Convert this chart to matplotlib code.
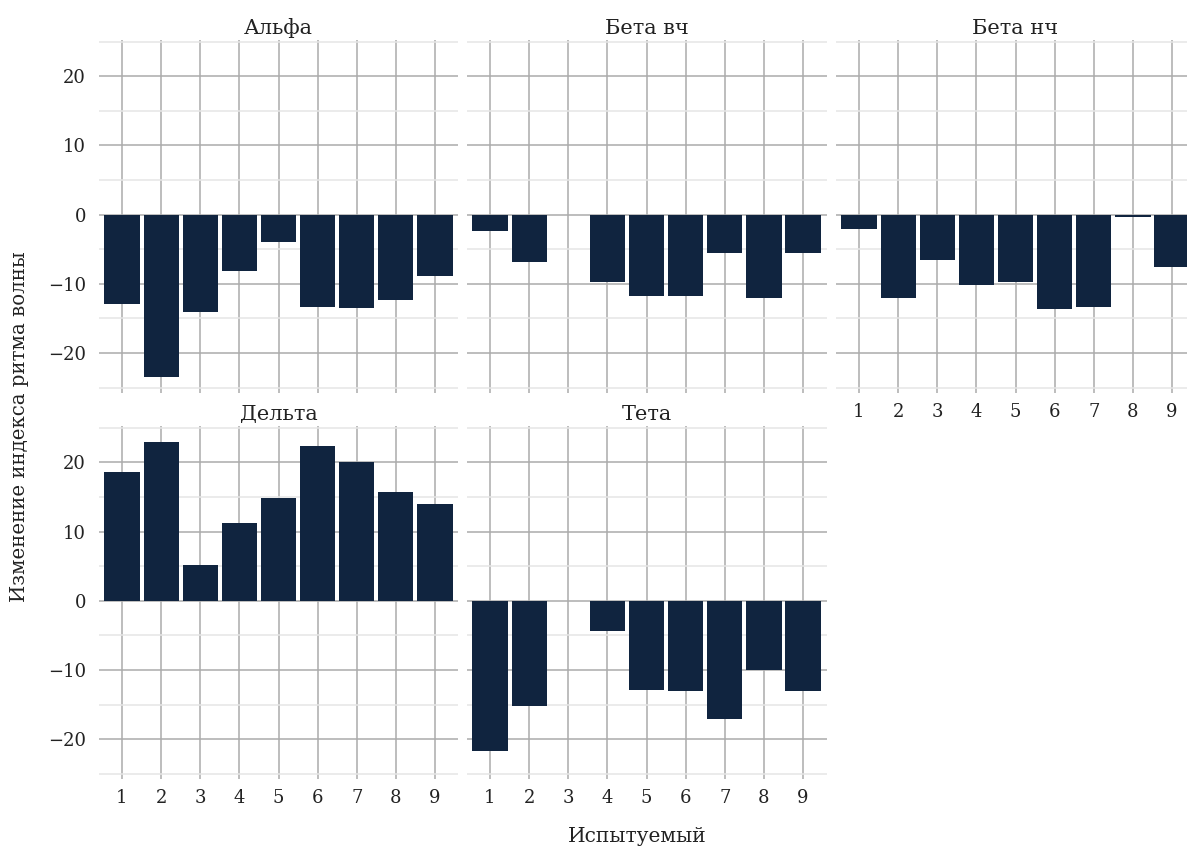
import matplotlib
matplotlib.use("Agg")
import matplotlib.pyplot as plt
import numpy as np

subjects = ["1", "2", "3", "4", "5", "6", "7", "8", "9"]
panels = ["Альфа", "Бета вч", "Бета нч", "Дельта", "Тета"]
alpha = [-12.9, -23.5, -14.0, -8.2, -3.9, -13.4, -13.5, -12.4, -8.8]
beta_hf = [-2.4, -6.8, 0.0, -9.8, -11.7, -11.7, -5.6, -12.0, -5.6]
beta_lf = [-2.0, -12.0, -6.5, -10.2, -9.8, -13.7, -13.3, -0.4, -7.5]
delta = [18.6, 22.9, 5.2, 11.2, 14.8, 22.4, 20.0, 15.7, 14.0]
theta = [-21.7, -15.2, -0.1, -4.3, -12.85, -13.0, -17.05, -10.05, -13.0]
values = [alpha, beta_hf, beta_lf, delta, theta]

y_major = [-20, -10, 0, 10, 20]
y_minor = [-25, -15, -5, 5, 15, 25]

W, H = 1187, 847
plt.rcParams['font.family'] = ['DejaVu Serif']
fig = plt.figure(figsize=(W / 100, H / 100), dpi=100)
fig.patch.set_facecolor("white")

bar_color = "#10243f"
major_c = "#ababab"
minor_c = "#e6e6e6"
text_c = "#222222"

col_left = [98.5, 466.5, 835.5]
panel_w = 360.0
row_top = [39.6, 425.7]
panel_h = 353.6

positions = [(0, 0), (0, 1), (0, 2), (1, 0), (1, 1)]
x = np.arange(1, len(subjects) + 1)

for name, vals, (r, c) in zip(panels, values, positions):
    left = col_left[c] / W
    bottom = 1 - (row_top[r] + panel_h) / H
    ax = fig.add_axes([left, bottom, panel_w / W, panel_h / H])
    ax.set_facecolor("white")
    ax.bar(x, vals, width=0.9, color=bar_color, zorder=3)
    ax.set_xlim(0.4, 9.6)
    ax.set_ylim(-25.8, 25.3)
    ax.set_yticks(y_major)
    ax.set_yticks(y_minor, minor=True)
    ax.set_xticks(x)
    ax.grid(axis="y", which="major", color=major_c, linewidth=1.1, zorder=1)
    ax.grid(axis="y", which="minor", color=minor_c, linewidth=1.1, zorder=0)
    ax.grid(axis="x", which="major", color=major_c, linewidth=1.1, zorder=1)
    for s in ax.spines.values():
        s.set_visible(False)
    ax.tick_params(axis="both", which="both", length=0, colors=text_c,
                   labelsize=13)
    ax.tick_params(axis="y", pad=9)
    ax.tick_params(axis="x", pad=7)
    show_x = (r == 1) or (c == 2)
    if show_x:
        ax.set_xticklabels(subjects)
    else:
        ax.set_xticklabels([])
    if c == 0:
        ax.set_yticklabels([str(v) if v >= 0 else "\u2212" + str(-v) for v in y_major])
    else:
        ax.set_yticklabels([])
    ax.set_title(name, fontsize=15, color=text_c, pad=4)

fig.text(637 / W, 1 - 836 / H, "Испытуемый", ha="center", va="center",
         fontsize=14.5, color=text_c)
fig.text(20 / W, 1 - 427 / H, "Изменение индекса ритма волны", ha="center",
         va="center", rotation=90, fontsize=14.2, color=text_c)

fig.savefig("out.png", dpi=100, facecolor="white")
